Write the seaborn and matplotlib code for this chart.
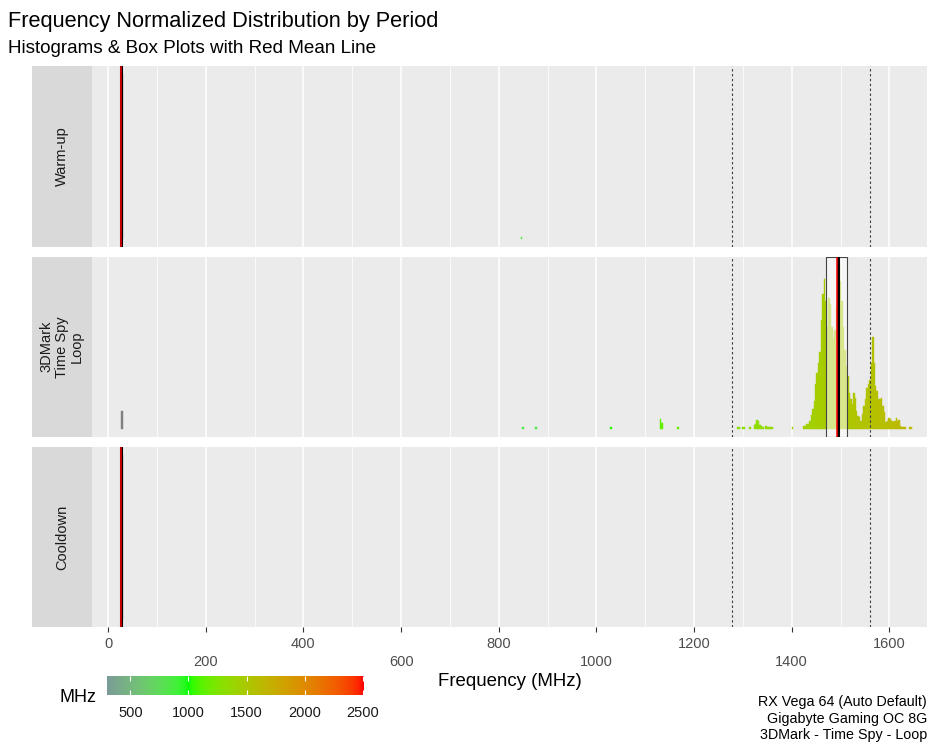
import numpy as np
import pandas as pd
import matplotlib
matplotlib.use("Agg")
import matplotlib.pyplot as plt
import matplotlib.colors as mcolors
import matplotlib.transforms as mtrans
from matplotlib.patches import Rectangle
import seaborn as sns

# ---------------- data ----------------
period_labels = ["Warm-up", "3DMark\nTime Spy\nLoop", "Cooldown"]

warm_mhz = [27, 848]
warm_h = [1.0, 0.012]

cool_mhz = [27]
cool_h = [1.0]

loop_mhz = [27, 849, 875, 1029, 1132, 1135, 1166,
            1290, 1293, 1299, 1302, 1315, 1322, 1325, 1328, 1331, 1334, 1337,
            1341, 1346, 1350, 1353, 1356, 1359, 1401, 1425,
            1428, 1431, 1434, 1437, 1440, 1443, 1446, 1449, 1452, 1455,
            1458, 1461, 1464, 1467, 1470, 1473, 1476, 1479, 1482, 1485,
            1488, 1491, 1494, 1497, 1500, 1503, 1506, 1509, 1512, 1515,
            1518, 1521, 1524, 1527, 1530, 1533, 1536, 1539, 1542, 1545,
            1548, 1551, 1554, 1557, 1560, 1563, 1566, 1569, 1572, 1575,
            1578, 1581, 1584, 1587, 1590, 1593, 1596, 1599, 1602, 1605,
            1608, 1611, 1614, 1617, 1620, 1623, 1626, 1629, 1632, 1641, 1644]
loop_h = [0.11, 0.012, 0.012, 0.012, 0.058, 0.035, 0.012,
          0.012, 0.012, 0.012, 0.012, 0.012, 0.025, 0.03, 0.055, 0.045, 0.025, 0.02,
          0.012, 0.02, 0.012, 0.012, 0.012, 0.012, 0.012, 0.02,
          0.02, 0.03, 0.03, 0.05, 0.085, 0.12, 0.17, 0.27, 0.34, 0.40,
          0.47, 0.66, 0.82, 0.91, 0.78, 0.62, 0.80, 0.76, 0.62, 0.55,
          0.60, 0.75, 0.98, 1.00, 0.90, 0.78, 0.62, 0.48, 0.38, 0.32,
          0.22, 0.18, 0.15, 0.22, 0.19, 0.11, 0.08, 0.07, 0.05, 0.09,
          0.14, 0.18, 0.25, 0.27, 0.30, 0.40, 0.56, 0.40, 0.26, 0.23,
          0.18, 0.18, 0.19, 0.14, 0.10, 0.04, 0.05, 0.065, 0.06, 0.05,
          0.04, 0.05, 0.065, 0.05, 0.055, 0.015, 0.01, 0.01, 0.01, 0.01, 0.01]

box_q1 = [27, 1470, 27]
box_med = [27, 1494, 27]
box_q3 = [27, 1513, 27]
box_mean = [27, 1492, 27]

ref_lines = [1277, 1561]

legend_ticks = [500, 1000, 1500, 2000, 2500]
x_ticks = [0, 200, 400, 600, 800, 1000, 1200, 1400, 1600]

grad_values = [300, 1000, 2500]
grad_colors = ["#7b9b98", "#00ff00", "#ff0000"]

# ---------------- colour helpers (CIELAB interpolation) ----------------
_M = np.array([[0.4124, 0.3576, 0.1805], [0.2126, 0.7152, 0.0722], [0.0193, 0.1192, 0.9505]])
_Minv = np.linalg.inv(_M)
_WHITE = np.array([0.95047, 1.0, 1.08883])


def to_lab(c):
    rgb = np.array(mcolors.to_rgb(c))
    lin = np.where(rgb <= 0.04045, rgb / 12.92, ((rgb + 0.055) / 1.055) ** 2.4)
    xyz = _M @ lin / _WHITE
    f = np.where(xyz > 0.008856, np.cbrt(xyz), 7.787 * xyz + 16 / 116)
    return np.array([116 * f[1] - 16, 500 * (f[0] - f[1]), 200 * (f[1] - f[2])])


def from_lab(lab):
    L, a, b = lab
    fy_ = (L + 16) / 116
    fx_ = fy_ + a / 500
    fz_ = fy_ - b / 200
    f = np.array([fx_, fy_, fz_])
    xyz = np.where(f > 0.2069, f ** 3, (f - 16 / 116) / 7.787) * _WHITE
    lin = np.clip(_Minv @ xyz, 0, 1)
    rgb = np.where(lin <= 0.0031308, 12.92 * lin, 1.055 * lin ** (1 / 2.4) - 0.055)
    return tuple(float(c) for c in np.clip(rgb, 0, 1))


_labs = [to_lab(c) for c in grad_colors]


def fill_color(v):
    if v < grad_values[0] or v > grad_values[-1]:
        return "#7f7f7f"
    for i in range(len(grad_values) - 1):
        if v <= grad_values[i + 1]:
            t = (v - grad_values[i]) / (grad_values[i + 1] - grad_values[i])
            return from_lab(_labs[i] * (1 - t) + _labs[i + 1] * t)
    return grad_colors[-1]


# ---------------- figure ----------------
plt.rcParams["font.family"] = ["Liberation Sans", "DejaVu Sans"]
W, H = 937, 750
fig = plt.figure(figsize=(W / 100, H / 100), dpi=100)


def fx(px):
    return px / W


def fy(py):
    return 1 - py / H


panel_left, panel_right = 92, 927
strip_left = 32
panels = [(66, 247), (256.5, 437), (447, 627.3)]
hist_data = [(warm_mhz, warm_h), (loop_mhz, loop_h), (cool_mhz, cool_h)]
XLIM = (-33, 1677)

axes = []
for i, (top, bot) in enumerate(panels):
    ax = fig.add_axes([fx(panel_left), fy(bot), fx(panel_right - panel_left), (bot - top) / H])
    ax.set_facecolor("#ebebeb")
    df = pd.DataFrame({"mhz": hist_data[i][0], "h": hist_data[i][1]})
    sns.histplot(data=df, x="mhz", weights="h", binwidth=3, binrange=(-0.5, 1699.5),
                 ax=ax, element="bars", linewidth=0, alpha=1)
    for p in list(ax.patches):
        if p.get_height() <= 0:
            p.set_visible(False)
            continue
        c = fill_color(p.get_x() + p.get_width() / 2)
        p.set_facecolor(c)
        p.set_edgecolor(c)
        p.set_linewidth(0.3)
    trans = mtrans.blended_transform_factory(ax.transData, ax.transAxes)
    ax.add_patch(Rectangle((box_q1[i], 0), box_q3[i] - box_q1[i], 1, transform=trans,
                           facecolor=(1, 1, 1, 0.55), edgecolor="#444444", lw=0.8, zorder=3))
    ax.axvline(box_med[i], color="black", lw=2.2, zorder=4)
    ax.axvline(box_mean[i], color="red", lw=1.1, zorder=5)
    for r in ref_lines:
        ax.axvline(r, color="#404040", lw=0.8, ls=(0, (2.2, 2.2)), zorder=6)
    ax.set_xlim(*XLIM)
    ax.set_ylim(-0.05, 1.05)
    ax.set_xticks(x_ticks)
    ax.set_xticks([100, 300, 500, 700, 900, 1100, 1300, 1500], minor=True)
    ax.set_axisbelow(True)
    ax.xaxis.grid(True, which="major", color="white", lw=1.1)
    ax.xaxis.grid(True, which="minor", color="white", lw=0.55)
    ax.yaxis.grid(False)
    ax.set_yticks([])
    ax.set_xlabel("")
    ax.set_ylabel("")
    for s in ax.spines.values():
        s.set_visible(False)
    ax.tick_params(axis="x", which="minor", length=0)
    if i < 2:
        ax.tick_params(axis="x", which="major", length=0, labelbottom=False)
    else:
        ax.tick_params(axis="x", which="major", length=3.5, width=0.8, color="#333333",
                       labelbottom=False)
        ltrans = mtrans.blended_transform_factory(ax.transData, fig.transFigure)
        for k, t in enumerate(x_ticks):
            ypx = 648 if k % 2 == 0 else 666
            ax.text(t, fy(ypx), str(t), transform=ltrans, ha="center", va="baseline",
                    fontsize=10.5, color="#4d4d4d")
    axes.append(ax)

    # strip
    sax = fig.add_axes([fx(strip_left), fy(bot), fx(panel_left - strip_left), (bot - top) / H])
    sax.set_facecolor("#d9d9d9")
    sax.set_xticks([])
    sax.set_yticks([])
    for s in sax.spines.values():
        s.set_visible(False)
    sax.text(0.5, 0.5, period_labels[i], rotation=90, ha="center", va="center",
             fontsize=10.5, color="#1a1a1a", linespacing=1.1, transform=sax.transAxes,
             multialignment="center")

# titles
fig.text(fx(8), fy(27), "Frequency Normalized Distribution by Period", fontsize=15.7,
         color="black", ha="left", va="baseline")
fig.text(fx(8), fy(53), "Histograms & Box Plots with Red Mean Line", fontsize=13.6,
         color="black", ha="left", va="baseline")

# axis title
fig.text(fx(510), fy(681), "Frequency (MHz)", fontsize=13.4, color="black",
         ha="center", va="center")

# colour bar legend
cax = fig.add_axes([fx(107), fy(695), fx(364 - 107), 19 / H])
vals = np.linspace(300, 2508, 600)
img = np.array([[fill_color(min(v, 2500)) for v in vals]])
cax.imshow(img, extent=[300, 2508, 0, 1], aspect="auto", interpolation="bilinear")
cax.set_xlim(300, 2508)
cax.set_ylim(0, 1)
cax.set_yticks([])
cax.set_xticks(legend_ticks)
cax.tick_params(axis="x", direction="in", color="white", top=True, bottom=True,
                length=3.5, width=0.8, labelsize=10.5, labelcolor="#1a1a1a", pad=8)
for s in cax.spines.values():
    s.set_visible(False)
fig.text(fx(97), fy(698), "MHz", fontsize=13, color="black", ha="right", va="center")

# caption
for txt, yb in [("RX Vega 64 (Auto Default)", 706), ("Gigabyte Gaming OC 8G", 722.5),
                ("3DMark - Time Spy - Loop", 739.5)]:
    fig.text(fx(927), fy(yb), txt, fontsize=10.3, color="black", ha="right", va="baseline")

fig.savefig("out.png", dpi=100, facecolor="white")
